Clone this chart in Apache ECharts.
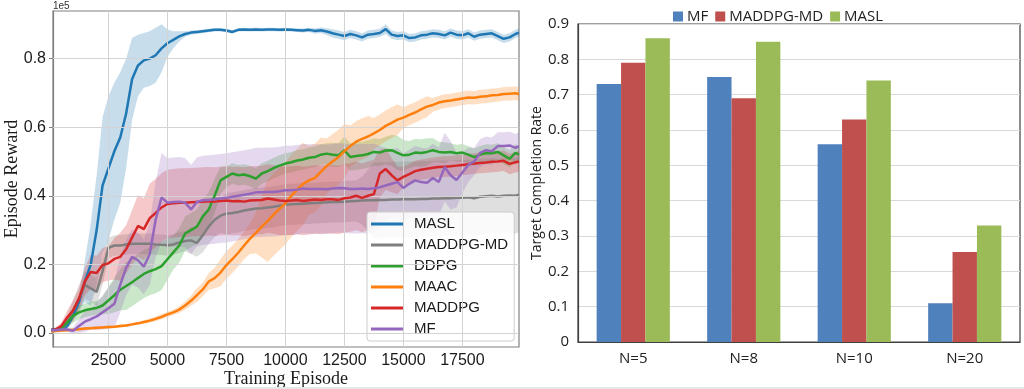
<!DOCTYPE html>
<html>
<head>
<meta charset="utf-8">
<script src="https://cdn.jsdelivr.net/npm/echarts@6/dist/echarts.min.js"></script>
<style>
html,body{margin:0;padding:0;background:#fff;}
#wrap{position:relative;width:1024px;height:389px;overflow:hidden;background:#fff;}
#left{position:absolute;left:0;top:0;width:520px;height:389px;}
#right{position:absolute;left:520px;top:0;width:504px;height:389px;}
#sep{position:absolute;left:0;top:387px;width:1024px;height:2px;background:#e6e6e6;}
</style>
</head>
<body>
<div id="wrap"><div id="left"></div><div id="right"></div><div id="sep"></div></div>
<script>
// ---------- Left chart data (Episode Reward, units of 1e5) ----------
const episodes = [0,250,500,750,1000,1250,1500,1750,2000,2250,
2500,2750,3000,3250,3500,3750,4000,4250,4500,4750,
5000,5250,5500,5750,6000,6250,6500,6750,7000,7250,
7500,7750,8000,8250,8500,8750,9000,9250,9500,9750,
10000,10250,10500,10750,11000,11250,11500,11750,12000,12250,
12500,12750,13000,13250,13500,13750,14000,14250,14500,14750,
15000,15250,15500,15750,16000,16250,16500,16750,17000,17250,
17500,17750,18000,18250,18500,18750,19000,19250,19500,19750,
19900];
const xTicks = [2500,5000,7500,10000,12500,15000,17500];
const yTicks = [0,0.2,0.4,0.6,0.8];
const lineNames = ['MASL','MADDPG-MD','DDPG','MAAC','MADDPG','MF'];

const masl = [.010,.010,.012,.020,.050,.090,.150,.200,.300,.430,
.480,.530,.570,.640,.740,.780,.795,.800,.810,.830,
.845,.855,.865,.872,.876,.878,.880,.882,.884,.884,
.882,.878,.884,.885,.884,.885,.884,.885,.885,.884,
.885,.884,.883,.882,.884,.881,.883,.879,.874,.870,
.866,.872,.868,.862,.870,.872,.875,.886,.870,.866,
.868,.860,.862,.868,.870,.874,.872,.868,.876,.870,
.868,.874,.864,.870,.872,.874,.866,.858,.862,.872,
.876];
const maslSpread = [.005,.005,.005,.005,.008,.02,.06,.12,.16,.20,
.21,.20,.19,.16,.12,.09,.08,.08,.08,.07,
.04,.025,.015,.008,.006,.005,.005,.005,.005,.005,
.005,.005,.005,.005,.005,.005,.005,.005,.005,.005,
.005,.005,.005,.006,.006,.008,.008,.01,.012,.012,
.012,.012,.012,.012,.012,.012,.012,.014,.012,.012,
.012,.012,.012,.012,.012,.012,.012,.012,.012,.012,
.012,.012,.012,.012,.012,.012,.012,.012,.012,.012,
.012];

const maddpgMd = [.008,.008,.010,.030,.065,.100,.140,.130,.120,.180,
.248,.255,.255,.258,.260,.260,.260,.260,.258,.257,
.256,.258,.264,.268,.270,.262,.285,.310,.330,.342,
.348,.350,.353,.357,.360,.363,.364,.366,.368,.371,
.374,.375,.376,.377,.378,.379,.380,.381,.382,.382,
.383,.384,.385,.386,.387,.387,.388,.388,.389,.389,
.390,.390,.390,.391,.391,.392,.392,.393,.393,.394,
.394,.396,.393,.397,.399,.400,.398,.400,.401,.400,
.403];
const maddpgMdSpread = [.005,.005,.008,.02,.03,.04,.04,.04,.04,.04,
.03,.03,.03,.03,.03,.03,.03,.03,.03,.03,
.03,.03,.03,.03,.04,.04,.05,.05,.05,.05,
.06,.06,.06,.06,.06,.06,.06,.06,.06,.06,
.06,.06,.06,.06,.06,.06,.06,.06,.06,.06,
.06,.06,.06,.07,.09,.11,.11,.11,.11,.11,
.11,.11,.11,.11,.11,.11,.11,.11,.11,.11,
.11,.11,.11,.11,.11,.11,.11,.11,.11,.11,
.11];

const ddpg = [.008,.008,.015,.030,.050,.060,.066,.070,.073,.080,
.095,.110,.126,.137,.148,.160,.172,.180,.186,.195,
.215,.235,.255,.290,.300,.310,.340,.360,.400,.445,
.455,.465,.460,.462,.457,.450,.465,.472,.481,.488,
.494,.498,.503,.506,.511,.513,.520,.523,.520,.518,
.533,.513,.516,.518,.522,.528,.526,.532,.533,.525,
.518,.520,.526,.525,.528,.533,.528,.526,.528,.524,
.526,.520,.513,.520,.525,.524,.528,.518,.508,.525,
.520];
const ddpgSpread = [.005,.005,.008,.015,.02,.02,.02,.02,.02,.025,
.04,.05,.06,.07,.07,.07,.07,.07,.07,.07,
.06,.05,.05,.05,.05,.05,.05,.05,.05,.04,
.03,.03,.03,.03,.03,.03,.03,.03,.03,.03,
.03,.03,.03,.03,.03,.03,.03,.03,.035,.035,
.04,.04,.04,.04,.04,.04,.04,.04,.045,.05,
.045,.04,.04,.04,.04,.035,.03,.03,.025,.025,
.025,.025,.025,.025,.025,.025,.025,.025,.025,.025,
.025];

const maac = [.005,.006,.007,.008,.009,.011,.013,.014,.015,.016,
.017,.018,.020,.022,.025,.028,.032,.036,.041,.047,
.054,.060,.068,.080,.094,.110,.127,.150,.160,.176,
.198,.215,.234,.255,.275,.292,.310,.327,.345,.362,
.378,.400,.418,.435,.445,.452,.470,.487,.500,.513,
.530,.545,.558,.566,.573,.582,.592,.604,.613,.622,
.628,.636,.643,.652,.660,.665,.672,.676,.678,.681,
.684,.687,.686,.689,.690,.693,.694,.697,.698,.699,
.697];
const maacSpread = [.004,.004,.004,.004,.004,.004,.004,.004,.004,.004,
.004,.004,.004,.004,.004,.004,.005,.006,.007,.008,
.008,.008,.01,.012,.015,.02,.02,.025,.03,.04,
.04,.04,.04,.04,.045,.06,.09,.12,.12,.12,
.12,.12,.12,.12,.10,.10,.10,.08,.08,.08,
.08,.06,.06,.06,.06,.045,.045,.045,.045,.045,
.03,.03,.03,.03,.03,.02,.02,.02,.02,.02,
.02,.02,.02,.02,.02,.02,.02,.02,.02,.02,
.02];

const maddpg = [.008,.010,.020,.045,.065,.100,.150,.178,.175,.198,
.203,.216,.222,.244,.278,.312,.303,.335,.350,.366,
.376,.378,.380,.380,.381,.382,.383,.384,.383,.385,
.386,.384,.385,.383,.386,.387,.388,.392,.389,.386,
.385,.386,.388,.385,.387,.389,.388,.390,.390,.388,
.393,.395,.400,.394,.400,.405,.465,.478,.460,.445,
.455,.463,.472,.476,.479,.482,.484,.485,.486,.488,
.490,.492,.494,.496,.497,.499,.500,.502,.493,.498,
.500];
const maddpgSpread = [.005,.005,.01,.02,.03,.03,.04,.05,.05,.05,
.05,.06,.07,.07,.08,.09,.09,.10,.10,.10,
.10,.10,.10,.10,.10,.10,.10,.10,.10,.10,
.10,.10,.10,.10,.10,.10,.10,.10,.10,.10,
.10,.10,.10,.10,.10,.10,.10,.10,.10,.10,
.10,.10,.10,.10,.10,.10,.07,.06,.05,.04,
.03,.03,.03,.03,.03,.03,.03,.03,.03,.03,
.03,.03,.03,.03,.03,.03,.03,.03,.03,.03,
.03];

const mf = [.008,.008,.010,.010,.006,.020,.033,.040,.048,.060,
.072,.085,.140,.190,.222,.212,.193,.230,.330,.395,
.380,.382,.383,.380,.360,.382,.387,.388,.390,.392,
.394,.397,.400,.403,.406,.410,.410,.411,.411,.413,
.416,.416,.418,.421,.420,.420,.420,.419,.421,.423,
.422,.420,.420,.421,.420,.422,.425,.430,.435,.440,
.423,.435,.445,.440,.438,.452,.440,.484,.460,.446,
.468,.490,.500,.525,.533,.530,.545,.545,.547,.540,
.545];
const mfSpread = [.005,.005,.005,.005,.01,.02,.03,.03,.04,.05,
.06,.07,.08,.08,.08,.08,.08,.09,.11,.13,
.13,.13,.13,.13,.13,.13,.13,.13,.13,.13,
.13,.13,.13,.13,.13,.13,.13,.13,.13,.13,
.13,.13,.13,.13,.13,.13,.13,.13,.13,.13,
.13,.13,.13,.13,.13,.13,.12,.11,.10,.10,
.10,.10,.10,.10,.10,.10,.10,.10,.10,.08,
.06,.05,.04,.04,.04,.04,.04,.04,.04,.04,
.04];

// ---------- Right chart data (Target Completion Rate) ----------
const categories = ['N=5','N=8','N=10','N=20'];
const barNames = ['MF','MADDPG-MD','MASL'];
const mfRate = [0.73, 0.75, 0.56, 0.11];
const maddpgMdRate = [0.79, 0.69, 0.63, 0.255];
const maslRate = [0.86, 0.85, 0.74, 0.33];

// ---------- Left chart ----------
const lineColors = ['#1f77b4','#7f7f7f','#2ca02c','#ff7f0e','#d62728','#9467bd'];
const bandColors = ['rgba(31,119,180,0.25)','rgba(127,127,127,0.25)','rgba(44,160,44,0.25)',
  'rgba(255,127,14,0.25)','rgba(214,39,40,0.25)','rgba(148,103,189,0.25)'];
const means = [masl, maddpgMd, ddpg, maac, maddpg, mf];
const spreads = [maslSpread, maddpgMdSpread, ddpgSpread, maacSpread, maddpgSpread, mfSpread];

function bandSeries(mean, spread, color) {
  const data = episodes.map((x, i) => [x, mean[i] - spread[i], mean[i] + spread[i]]);
  return {
    type: 'custom', silent: true, z: 1, data: data,
    encode: {x: 0, y: [1, 2]},
    renderItem: function (params, api) {
      if (params.dataIndex !== 0) return null;
      const n = data.length, pts = [];
      for (let i = 0; i < n; i++) pts.push(api.coord([api.value(0, i), api.value(2, i)]));
      for (let i = n - 1; i >= 0; i--) pts.push(api.coord([api.value(0, i), api.value(1, i)]));
      const cs = params.coordSys;
      return {
        type: 'polygon', shape: {points: pts}, style: {fill: color},
        clipPath: {type: 'rect', shape: {x: cs.x, y: cs.y, width: cs.width, height: cs.height}}
      };
    }
  };
}

const leftSeries = [];
// grid lines at the tick values (drawn through the axes' scales)
leftSeries.push({
  type: 'line', data: [], z: 0, silent: true,
  markLine: {
    silent: true, symbol: 'none', label: {show: false}, animation: false,
    lineStyle: {color: '#d3d3d3', width: 1, type: 'solid'},
    data: xTicks.map(v => ({xAxis: v})).concat(yTicks.map(v => ({yAxis: v})))
  }
});
means.forEach((m, k) => leftSeries.push(bandSeries(m, spreads[k], bandColors[k])));
means.forEach((m, k) => leftSeries.push({
  type: 'line', name: lineNames[k], data: episodes.map((x, i) => [x, m[i]]),
  showSymbol: false, symbol: 'none', z: 3 + k, clip: true,
  lineStyle: {width: 2.5, color: lineColors[k]}, itemStyle: {color: lineColors[k]}
}));

const tickFont = {fontFamily: 'Liberation Sans', fontSize: 16, color: '#1a1a1a'};
const leftChart = echarts.init(document.getElementById('left'));
leftChart.setOption({
  animation: false,
  grid: {left: 53, top: 11, width: 466, height: 336, show: true, borderColor: '#808080', borderWidth: 1.2,
    backgroundColor: '#fff', containLabel: false, outerBoundsMode: 'none'},
  graphic: [{type: 'text', left: 53, top: 1, style: {text: '1e5', fontSize: 10, fontFamily: 'Liberation Sans', fill: '#333'}}],
  xAxis: {
    type: 'value', min: 150, max: 19900,
    axisLine: {show: true, lineStyle: {color: '#808080', width: 1.2}},
    axisTick: {show: true, length: 4, customValues: xTicks, lineStyle: {color: '#808080'}},
    axisLabel: Object.assign({customValues: xTicks, margin: 6, formatter: v => String(v)}, tickFont),
    splitLine: {show: false},
    name: 'Training Episode', nameLocation: 'middle', nameGap: 23, nameMoveOverlap: false,
    nameTextStyle: {fontFamily: 'Liberation Serif', fontSize: 18, color: '#1a1a1a'}
  },
  yAxis: {
    type: 'value', min: -0.041, max: 0.939,
    axisLine: {show: true, lineStyle: {color: '#808080', width: 1.2}},
    axisTick: {show: true, length: 4, customValues: yTicks, lineStyle: {color: '#808080'}},
    axisLabel: Object.assign({customValues: yTicks, margin: 7, formatter: v => v.toFixed(1)}, tickFont),
    splitLine: {show: false},
    name: 'Episode Reward', nameLocation: 'middle', nameGap: 32, nameMoveOverlap: false,
    nameTextStyle: {fontFamily: 'Liberation Serif', fontSize: 18, color: '#1a1a1a'}
  },
  legend: {
    data: lineNames, orient: 'vertical', left: 367, top: 212,
    icon: 'rect', itemWidth: 32, itemHeight: 3, itemGap: 5,
    padding: [4, 6, 4, 4], backgroundColor: 'rgba(255,255,255,0.85)',
    borderColor: '#cccccc', borderWidth: 1, borderRadius: 3,
    textStyle: {fontFamily: 'Liberation Sans', fontSize: 15, color: '#1a1a1a', padding: [0, 0, 0, 6], lineHeight: 16}
  },
  series: leftSeries
});

// ---------- Right chart ----------
const barColors = ['#4f81bd', '#c0504d', '#9bbb59'];
const barData = [mfRate, maddpgMdRate, maslRate];
const rightFont = {fontFamily: 'Open Sans', color: '#222'};
const rightChart = echarts.init(document.getElementById('right'));
rightChart.setOption({
  animation: false,
  grid: {left: 58, top: 24, width: 442, height: 318, show: true, borderColor: '#404040', borderWidth: 1.2,
    containLabel: false, outerBoundsMode: 'none'},
  legend: {
    data: barNames, left: 148, top: 4, icon: 'rect', itemWidth: 10, itemHeight: 10, itemGap: 7,
    textStyle: Object.assign({fontSize: 15, padding: [0, 0, 0, -1]}, rightFont)
  },
  xAxis: {
    type: 'category', data: categories,
    axisLine: {show: true, lineStyle: {color: '#404040', width: 1.2}},
    axisTick: {show: false},
    axisLabel: Object.assign({fontSize: 15, margin: 9}, rightFont)
  },
  yAxis: {
    type: 'value', min: 0, max: 0.9, interval: 0.1,
    axisLine: {show: true, lineStyle: {color: '#404040', width: 1.2}},
    axisTick: {show: false},
    axisLabel: Object.assign({fontSize: 15, margin: 9, formatter: v => (v === 0 ? '0' : v.toFixed(1))}, rightFont),
    splitLine: {show: true, lineStyle: {color: '#d9d9d9', width: 1}},
    name: 'Target Completion Rate', nameLocation: 'middle', nameGap: 34, nameMoveOverlap: false,
    nameTextStyle: Object.assign({fontSize: 14}, rightFont)
  },
  series: barData.map((d, k) => ({
    type: 'bar', name: barNames[k], data: d, barWidth: 24.4, barGap: '0%',
    itemStyle: {color: barColors[k]}
  }))
});
</script>
</body>
</html>
